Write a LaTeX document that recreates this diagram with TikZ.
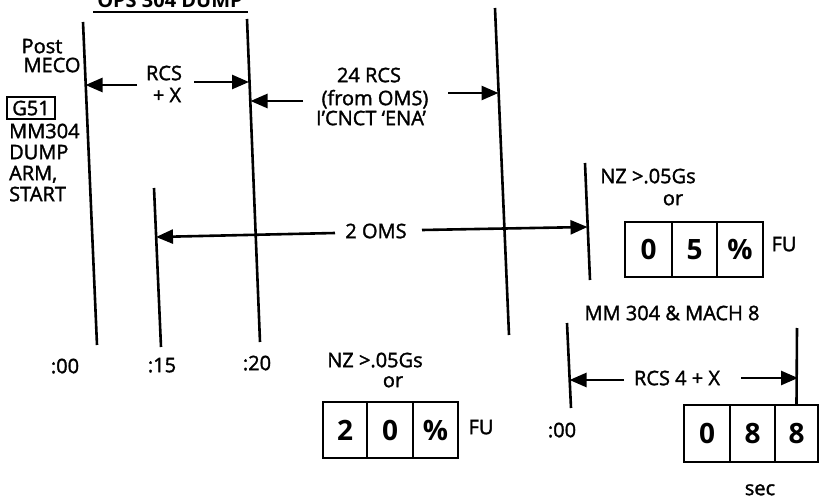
\documentclass[tikz,border=0pt]{standalone}
\usepackage{fontspec}
\setmainfont{Open Sans}
\newfontfamily\lblfont{Open Sans}[FakeBold=1.6]
\usetikzlibrary{arrows.meta,calc}
\begin{document}
\begin{tikzpicture}[x=1pt,y=-1pt,
  tl/.style={line width=2.6pt},
  arr/.style={line width=2.6pt,-{Triangle[length=17pt,width=14pt]}},
  lbl/.style={inner sep=0pt,anchor=mid,yshift=-2.5pt,font=\lblfont\fontsize{20}{21}\selectfont},
  lft/.style={inner sep=0pt,anchor=mid west,yshift=-2.5pt,font=\lblfont\fontsize{20}{21}\selectfont},
  cell/.style={draw,line width=2pt,minimum width=45pt,minimum height=56pt,inner sep=0pt,font=\fontsize{28}{30}\selectfont\bfseries}]
\useasboundingbox (0,0) rectangle (820,500);
\fill[white] (0,0) rectangle (820,500);

% title
\node[inner sep=0pt,anchor=base,font=\fontsize{20}{21}\selectfont\bfseries] (title) at (170,8) {OPS 304 DUMP};
\coordinate (ul1) at (93,12);
\coordinate (ul2) at (248,12);
\draw[line width=2pt] (ul1) -- (ul2);

% vertical time lines
\coordinate (a0t) at (83,22);   \coordinate (a0b) at (97,345);
\coordinate (a15t) at (154,188); \coordinate (a15b) at (161,347);
\coordinate (a20t) at (247,19);  \coordinate (a20b) at (260,342);
\coordinate (cT) at (495,8);     \coordinate (cB) at (509,335);
\coordinate (nT) at (585,163);   \coordinate (nB) at (590,280);
\coordinate (mT) at (567,323);   \coordinate (mB) at (571,408);
\coordinate (rT) at (797,328);
\draw[tl] (a0t) -- (a0b);
\draw[tl] (a15t) -- (a15b);
\draw[tl] (a20t) -- (a20b);
\draw[tl] (cT) -- (cB);
\draw[tl] (nT) -- (nB);
\draw[tl] (mT) -- (mB);

% left texts
\node[lbl] (post) at (42,48) {Post};
\node[lbl] (meco) at (52,67) {MECO};
\node[lbl,draw,line width=1.5pt,minimum width=48pt,minimum height=22pt,yshift=1pt] (g51) at (31,111) {G51};
\node[lft] (mm) at (9,133) {MM304};
\node[lft] (dump) at (9,154) {DUMP};
\node[lft] (arm) at (9,175) {ARM,};
\node[lft] (start) at (9,196) {START};

% RCS +X
\node[lbl] (rcs1) at (164,75) {RCS};
\node[lbl] (rcs2) at (167,97) {+ X};
\coordinate (r1t) at (137,85); \coordinate (r1h) at (85.5,85);
\coordinate (r2t) at (194,82); \coordinate (r2h) at (249,82);
\draw[arr] (r1t) -- (r1h);
\draw[arr] (r2t) -- (r2h);

% 24 RCS
\node[lbl] (t24a) at (369,77) {24 RCS};
\node[lbl] (t24b) at (375,100) {(from OMS)};
\node[lbl] (t24c) at (371,120) {I’CNCT ‘ENA’};
\coordinate (s1t) at (303,101); \coordinate (s1h) at (250.5,101);
\coordinate (s2t) at (448,93);  \coordinate (s2h) at (498.5,93);
\draw[arr] (s1t) -- (s1h);
\draw[arr] (s2t) -- (s2h);

% 2 OMS
\node[lbl] (oms) at (376,233) {2 OMS};
\coordinate (o1t) at (335,233); \coordinate (o1h) at (156,237);
\coordinate (o2t) at (422,230); \coordinate (o2h) at (587.5,227);
\draw[arr] (o1t) -- (o1h);
\draw[arr] (o2t) -- (o2h);

% top right NZ
\node[lbl] (nz1) at (648,178) {NZ >.05Gs};
\node[lbl] (or1) at (673,200) {or};
\node[cell,minimum width=47pt,minimum height=55pt] (b1a) at (648.5,249.5) {0};
\node[cell,minimum width=45pt,minimum height=55pt] (b1b) at (694.5,249.5) {5};
\node[cell,minimum width=46pt,minimum height=55pt] (b1c) at (740,249.5) {\%};
\node[lbl] (fu1) at (784,246) {FU};

% time labels
\node[lbl] (t00) at (65,368) {:00};
\node[lbl] (t15) at (162,367) {:15};
\node[lbl] (t20) at (257,365) {:20};

% bottom NZ
\node[lbl] (nz2) at (375,362) {NZ >.05Gs};
\node[lbl] (or2) at (393,382) {or};
\node[cell,minimum width=44pt] (b2a) at (345,430) {2};
\node[cell,minimum width=46pt] (b2b) at (390,430) {0};
\node[cell,minimum width=45pt] (b2c) at (435.5,430) {\%};
\node[lbl] (fu2) at (481,429) {FU};

% MM 304 & MACH 8
\node[lbl] (mach) at (672,315) {MM 304 \& MACH 8};
\node[lbl] (rcs4) at (677,380) {RCS 4 + X};
\coordinate (m1t) at (624,380); \coordinate (m1h) at (569.5,380);
\coordinate (m2t) at (741,378); \coordinate (m2h) at (798,378);
\draw[arr] (m1t) -- (m1h);
\draw[arr] (m2t) -- (m2h);
\node[lbl] (t00b) at (562,432) {:00};
\node[cell,minimum width=46pt,minimum height=57pt] (b3a) at (707,433.5) {0};
\node[cell,minimum width=45pt,minimum height=57pt] (b3b) at (752.5,433.5) {8};
\node[cell,minimum width=43pt,minimum height=57pt] (b3c) at (796.5,433.5) {8};
\draw[tl] (rT) -- (b3c.north);
\node[lbl] (sec) at (760,490) {sec};
\end{tikzpicture}
\end{document}
